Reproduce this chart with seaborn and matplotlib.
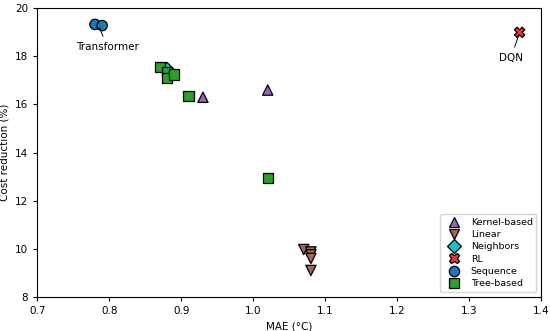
import pandas as pd
import matplotlib
matplotlib.use("Agg")
import matplotlib.pyplot as plt
import seaborn as sns

families = ["Kernel-based", "Kernel-based",
            "Linear", "Linear", "Linear", "Linear", "Linear",
            "Neighbors",
            "RL",
            "Sequence", "Sequence",
            "Tree-based", "Tree-based", "Tree-based", "Tree-based", "Tree-based", "Tree-based"]
mae = [0.93, 1.02,
       1.07, 1.08, 1.08, 1.08, 1.08,
       0.88,
       1.37,
       0.78, 0.79,
       0.87, 0.88, 0.88, 0.89, 0.91, 1.02]
cost = [16.3, 16.6,
        9.97, 9.87, 9.75, 9.6, 9.1,
        17.45,
        19.0,
        19.33, 19.28,
        17.55, 17.35, 17.1, 17.25, 16.35, 12.95]

order = ["Kernel-based", "Linear", "Neighbors", "RL", "Sequence", "Tree-based"]
palette = {"Kernel-based": "#9467bd", "Linear": "#a0665a", "Neighbors": "#17becf",
           "RL": "#e8383a", "Sequence": "#1f77b4", "Tree-based": "#2ca02c"}
markers = {"Kernel-based": "^", "Linear": "v", "Neighbors": "D",
           "RL": "X", "Sequence": "o", "Tree-based": "s"}


def main():
    df = pd.DataFrame({"family": families, "mae": mae, "cost": cost})
    sns.set_style("ticks")
    plt.rcParams["font.family"] = ["DejaVu Sans"]
    plt.rcParams["font.size"] = 7.5
    for key in ["text.color", "axes.labelcolor", "xtick.color", "ytick.color"]:
        plt.rcParams[key] = "black"

    fig, ax = plt.subplots(figsize=(5.5, 3.31), dpi=100)
    sns.scatterplot(data=df, x="mae", y="cost", hue="family", style="family",
                    hue_order=order, style_order=order, palette=palette,
                    markers=markers, s=55, edgecolor="black", linewidth=0.9,
                    ax=ax)

    ax.set_xlim(0.7, 1.4)
    ax.set_ylim(8, 20)
    ax.set_xlabel("MAE (°C)", fontsize=7.5)
    ax.set_ylabel("Cost reduction (%)", fontsize=7.5)
    ax.tick_params(labelsize=7.5, length=3)
    for s in ax.spines.values():
        s.set_visible(True)
        s.set_linewidth(0.8)
        s.set_color("black")

    ax.annotate("Transformer", xy=(0.785, 19.3), xytext=(0.797, 18.38),
                ha="center", va="center", fontsize=7.5,
                arrowprops=dict(arrowstyle="-", color="black", lw=0.7))
    ax.annotate("DQN", xy=(1.37, 19.0), xytext=(1.358, 17.93),
                ha="center", va="center", fontsize=7.5,
                arrowprops=dict(arrowstyle="-", color="black", lw=0.7))

    leg = ax.legend(loc="lower right", fontsize=6.8, title=None, frameon=True,
                    markerscale=1.0, handletextpad=0.8, borderpad=0.4,
                    labelspacing=0.35)
    leg.get_frame().set_edgecolor("#cccccc")

    fig.subplots_adjust(left=0.068, right=0.984, top=0.975, bottom=0.103)
    fig.savefig("out.png", dpi=100)


if __name__ == "__main__":
    main()
